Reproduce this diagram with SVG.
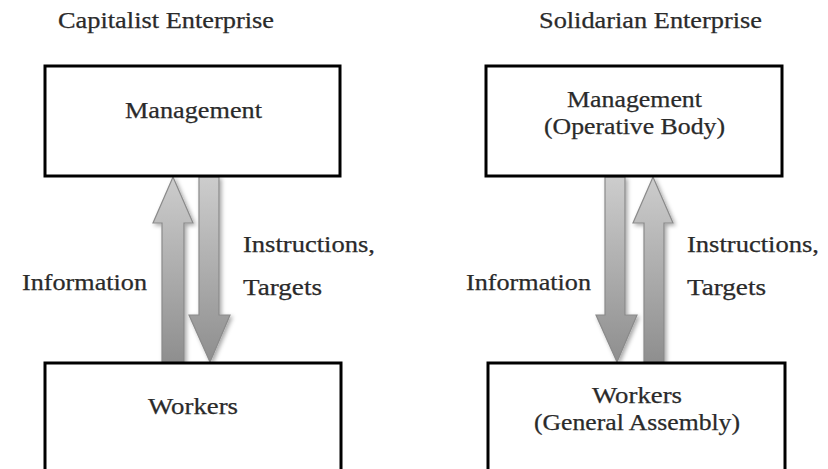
<svg xmlns="http://www.w3.org/2000/svg" width="828" height="469" viewBox="0 0 828 469">
<style>
.box{fill:#fff;stroke:#000;stroke-width:3}
.t{font-family:"Liberation Serif","DejaVu Serif",serif;font-size:23px;fill:#2a2a2a;stroke:#2a2a2a;stroke-width:0.25}
.arr{fill:url(#g);stroke:#8a8a8a;stroke-width:1.2;filter:url(#sh)}
</style>
<defs>
<linearGradient id="g" gradientUnits="userSpaceOnUse" x1="0" y1="176" x2="0" y2="363">
<stop offset="0" stop-color="#cdcdcd"/>
<stop offset="1" stop-color="#8e8e8e"/>
</linearGradient>
<filter id="sh" x="-50%" y="-20%" width="200%" height="140%">
<feDropShadow dx="2" dy="2" stdDeviation="2" flood-color="#000" flood-opacity="0.35"/>
</filter>
</defs>
<rect width="828" height="469" fill="#fff"/>
<text class="t" x="58" y="28" textLength="216" lengthAdjust="spacingAndGlyphs">Capitalist Enterprise</text>
<text class="t" x="539" y="28" textLength="223" lengthAdjust="spacingAndGlyphs">Solidarian Enterprise</text>
<g id="connectors">
<path class="arr" d="M173,177 L193,223 L184,223 L184,362 L162,362 L162,223 L153,223 Z"/>
<path class="arr" d="M199,177 L219,177 L219,315 L230,315 L210,362 L189,315 L199,315 Z"/>
<path class="arr" d="M605,177 L625,177 L625,315 L637,315 L617,362 L596,315 L605,315 Z"/>
<path class="arr" d="M653,177 L673,223 L664,223 L664,362 L644,362 L644,223 L633,223 Z"/>
<text class="t" x="22" y="290" textLength="125" lengthAdjust="spacingAndGlyphs">Information</text>
<text class="t" x="243" y="252" textLength="132" lengthAdjust="spacingAndGlyphs">Instructions,</text>
<text class="t" x="243" y="295" textLength="79" lengthAdjust="spacingAndGlyphs">Targets</text>
<text class="t" x="466" y="290" textLength="125" lengthAdjust="spacingAndGlyphs">Information</text>
<text class="t" x="687" y="252" textLength="132" lengthAdjust="spacingAndGlyphs">Instructions,</text>
<text class="t" x="687" y="295" textLength="79" lengthAdjust="spacingAndGlyphs">Targets</text>
</g>
<g id="cap-management">
<rect class="box" x="45" y="66" width="295" height="110"/>
<text class="t" x="125" y="118" textLength="137" lengthAdjust="spacingAndGlyphs">Management</text>
</g>
<g id="cap-workers">
<rect class="box" x="45" y="363" width="296" height="120"/>
<text class="t" x="148" y="414" textLength="90" lengthAdjust="spacingAndGlyphs">Workers</text>
</g>
<g id="sol-management">
<rect class="box" x="486" y="66" width="296" height="110"/>
<text class="t" x="567" y="107" textLength="135" lengthAdjust="spacingAndGlyphs">Management</text>
<text class="t" x="544" y="134" textLength="181" lengthAdjust="spacingAndGlyphs">(Operative Body)</text>
</g>
<g id="sol-workers">
<rect class="box" x="488" y="363" width="297" height="120"/>
<text class="t" x="592" y="403" textLength="90" lengthAdjust="spacingAndGlyphs">Workers</text>
<text class="t" x="534" y="430" textLength="206" lengthAdjust="spacingAndGlyphs">(General Assembly)</text>
</g>
</svg>
